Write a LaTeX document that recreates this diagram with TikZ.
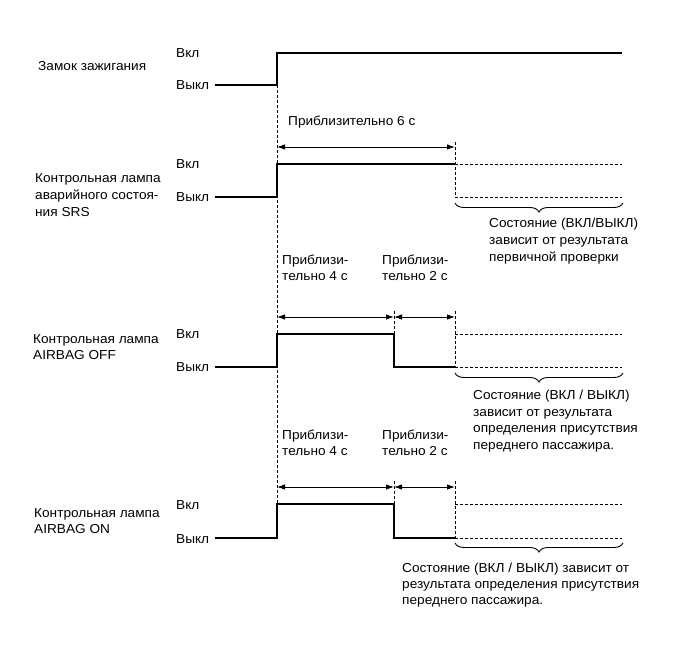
\documentclass[tikz,border=0pt]{standalone}
\usepackage{fontspec}
\setmainfont[FakeStretch=1.05]{Liberation Sans}
\usetikzlibrary{arrows.meta,decorations.pathreplacing}
\begin{document}
\begin{tikzpicture}[x=1pt,y=-1pt,
  sig/.style={line width=1.1pt},
  dsh/.style={dash pattern=on 3pt off 2pt,line width=0.85pt},
  dim/.style={{Latex[length=8pt,width=5.5pt]}-{Latex[length=8pt,width=5.5pt]},line width=0.9pt},
  lbl/.style={anchor=west,inner sep=0pt,font=\fontsize{13}{15}\selectfont},
  blk/.style={anchor=north west,inner sep=0pt,align=left,font=\fontsize{13}{#1}\selectfont},
  brc/.style={decorate,decoration={brace,mirror,amplitude=9pt},line width=0.9pt}]
\useasboundingbox (0,0) rectangle (691,660);
% time coordinates
\coordinate (t0top) at (277,85);
\coordinate (t0bot) at (277,538);
% ---- ignition switch
\node[lbl] (ign) at (38,66) {Замок зажигания};
\node[lbl] (ignon) at (176,53) {Вкл};
\node[lbl] (ignoff) at (176,85) {Выкл};
\draw[dsh] (t0top) -- (t0bot);
\draw[sig] (215,85) -- (277,85) -- (277,53) -- (622,53);
% ---- SRS lamp
\node[lbl] (p6) at (288,122) {Приблизительно 6 с};
\draw[dim] (277,147) -- (455,147);
\node[blk=17] (srs) at (35,173.5) {Контрольная лампа\\аварийного состоя-\\ния SRS};
\node[lbl] (srson) at (176,164) {Вкл};
\node[lbl] (srsoff) at (176,197) {Выкл};
\draw[sig] (215,197) -- (277,197) -- (277,164) -- (455,164);
\draw[dsh] (455,142) -- (455,197);
\draw[dsh] (455,164) -- (622,164);
\draw[dsh] (455,197) -- (622,197);
\draw[brc] (455,203) -- (623,203);
\node[blk=17] (srsst) at (489,218) {Состояние (ВКЛ/ВЫКЛ)\\зависит от результата\\первичной проверки};
% ---- AIRBAG OFF
\node[blk=16] (p4a) at (282,255) {Приблизи-\\тельно 4 с};
\node[blk=16] (p2a) at (382,255) {Приблизи-\\тельно 2 с};
\draw[dim] (277,317) -- (394,317);
\draw[dim] (394,317) -- (455,317);
\draw[dsh] (394,311) -- (394,334);
\draw[dsh] (455,311) -- (455,367);
\node[blk=15.5] (offl) at (33,334.5) {Контрольная лампа\\AIRBAG OFF};
\node[lbl] (offon) at (176,334) {Вкл};
\node[lbl] (offoff) at (176,367) {Выкл};
\draw[sig] (215,367) -- (277,367) -- (277,334) -- (394,334) -- (394,367) -- (455,367);
\draw[dsh] (455,334) -- (622,334);
\draw[dsh] (455,367) -- (622,367);
\draw[brc] (455,373) -- (623,373);
\node[blk=16.5] (offst) at (473,390) {Состояние (ВКЛ / ВЫКЛ)\\зависит от результата\\определения присутствия\\переднего пассажира.};
% ---- AIRBAG ON
\node[blk=16] (p4b) at (282,430) {Приблизи-\\тельно 4 с};
\node[blk=16] (p2b) at (382,430) {Приблизи-\\тельно 2 с};
\draw[dim] (277,487) -- (394,487);
\draw[dim] (394,487) -- (455,487);
\draw[dsh] (394,481) -- (394,504);
\draw[dsh] (455,481) -- (455,538);
\node[blk=15.5] (onl) at (34,508.5) {Контрольная лампа\\AIRBAG ON};
\node[lbl] (onon) at (176,505) {Вкл};
\node[lbl] (onoff) at (176,539) {Выкл};
\draw[sig] (215,538) -- (277,538) -- (277,504) -- (394,504) -- (394,538) -- (455,538);
\draw[dsh] (455,504) -- (622,504);
\draw[dsh] (455,538) -- (622,538);
\draw[brc] (455,543) -- (623,543);
\node[blk=16] (onst) at (402,563) {Состояние (ВКЛ / ВЫКЛ) зависит от\\результата определения присутствия\\переднего пассажира.};
\end{tikzpicture}
\end{document}
